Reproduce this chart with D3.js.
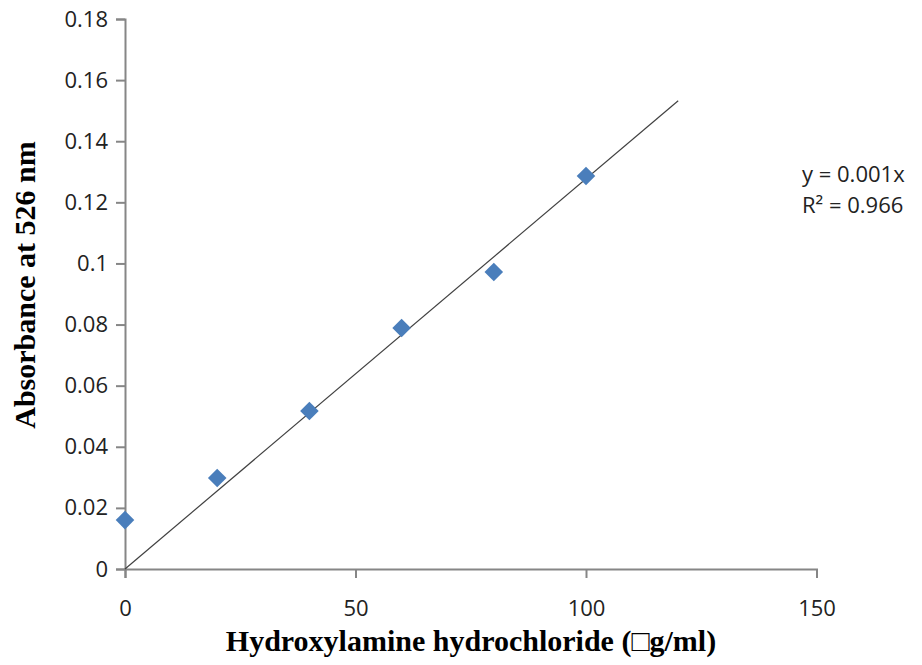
<!DOCTYPE html>
<html>
<head>
<meta charset="utf-8">
<script src="https://cdn.jsdelivr.net/npm/d3@7"></script>
<style>
  body { margin: 0; background: #fff; }
</style>
</head>
<body>
<div id="container"></div>
<script>
// data
let concentrations = [0, 20, 40, 60, 80, 100];
let absorbances = [0.016, 0.0298, 0.0517, 0.0789, 0.0972, 0.1286];
let xTicks = [0, 50, 100, 150];
let yTicks = [0, 0.02, 0.04, 0.06, 0.08, 0.1, 0.12, 0.14, 0.16, 0.18];
let trendSlope = 0.001277;   // line through origin, forecast to x = 120
let trendEnd = 120;
let equationLines = ["y = 0.001x", "R² = 0.966"];

let w = 922;
let h = 665;
let viz = d3.select("#container")
  .append("svg")
    .attr("width", w)
    .attr("height", h)
;

let x = d3.scaleLinear().domain([0, 150]).range([125, 816.5]);
let y = d3.scaleLinear().domain([0, 0.18]).range([569, 19]);

let axisColor = "#868686";
let tickFont = "'Open Sans', 'Liberation Sans', Arial, sans-serif";

// y axis
let yAxis = viz.append("g")
  .attr("transform", "translate(" + x(0) + ",0)")
  .call(d3.axisLeft(y).tickValues(yTicks).tickSize(9).tickPadding(8)
    .tickFormat(d => d3.format("~g")(d)));
yAxis.select(".domain").attr("stroke", axisColor).attr("stroke-width", 2);
yAxis.selectAll(".tick line").attr("stroke", axisColor).attr("stroke-width", 2);
yAxis.selectAll(".tick text")
  .attr("fill", "#222")
  .style("font-family", tickFont)
  .style("font-size", "22px");

// x axis
let xAxis = viz.append("g")
  .attr("transform", "translate(0," + y(0) + ")")
  .call(d3.axisBottom(x).tickValues(xTicks).tickSize(9).tickPadding(22));
xAxis.select(".domain").attr("stroke", axisColor).attr("stroke-width", 2);
xAxis.selectAll(".tick line").attr("stroke", axisColor).attr("stroke-width", 2);
xAxis.selectAll(".tick text")
  .attr("fill", "#222")
  .style("font-family", tickFont)
  .style("font-size", "22px");

// trend line
let lineMaker = d3.line()
  .x(function(d){ return x(d) })
  .y(function(d){ return y(d * trendSlope) })
;
viz.append("path")
  .datum([0, trendEnd])
  .attr("d", lineMaker)
  .attr("fill", "none")
  .attr("stroke", "#404040")
  .attr("stroke-width", 1.2)
;

// diamond markers
let pts = concentrations.map((c, i) => ({c: c, a: absorbances[i]}));
viz.selectAll("path.pt").data(pts).enter()
  .append("path")
  .attr("class", "pt")
  .attr("d", d3.symbol().type(d3.symbolDiamond2).size(220))
  .attr("transform", d => "translate(" + x(d.c) + "," + y(d.a) + ")")
  .attr("fill", "#4a7ebb")
;

// equation label
viz.selectAll("text.eq").data(equationLines).enter()
  .append("text")
  .attr("class", "eq")
  .attr("x", 802)
  .attr("y", (d, i) => 182 + i * 31)
  .attr("fill", "#222")
  .style("font-family", tickFont)
  .style("font-size", "22px")
  .text(d => d);

// axis titles
viz.append("text")
  .attr("x", 471)
  .attr("y", 651)
  .attr("text-anchor", "middle")
  .style("font-family", "'Liberation Serif', 'Times New Roman', serif")
  .style("font-weight", "bold")
  .style("font-size", "30px")
  .text("Hydroxylamine hydrochloride (□g/ml)");

viz.append("text")
  .attr("transform", "translate(35,285) rotate(-90)")
  .attr("text-anchor", "middle")
  .style("font-family", "'Liberation Serif', 'Times New Roman', serif")
  .style("font-weight", "bold")
  .style("font-size", "30px")
  .text("Absorbance at 526 nm");
</script>
</body>
</html>
